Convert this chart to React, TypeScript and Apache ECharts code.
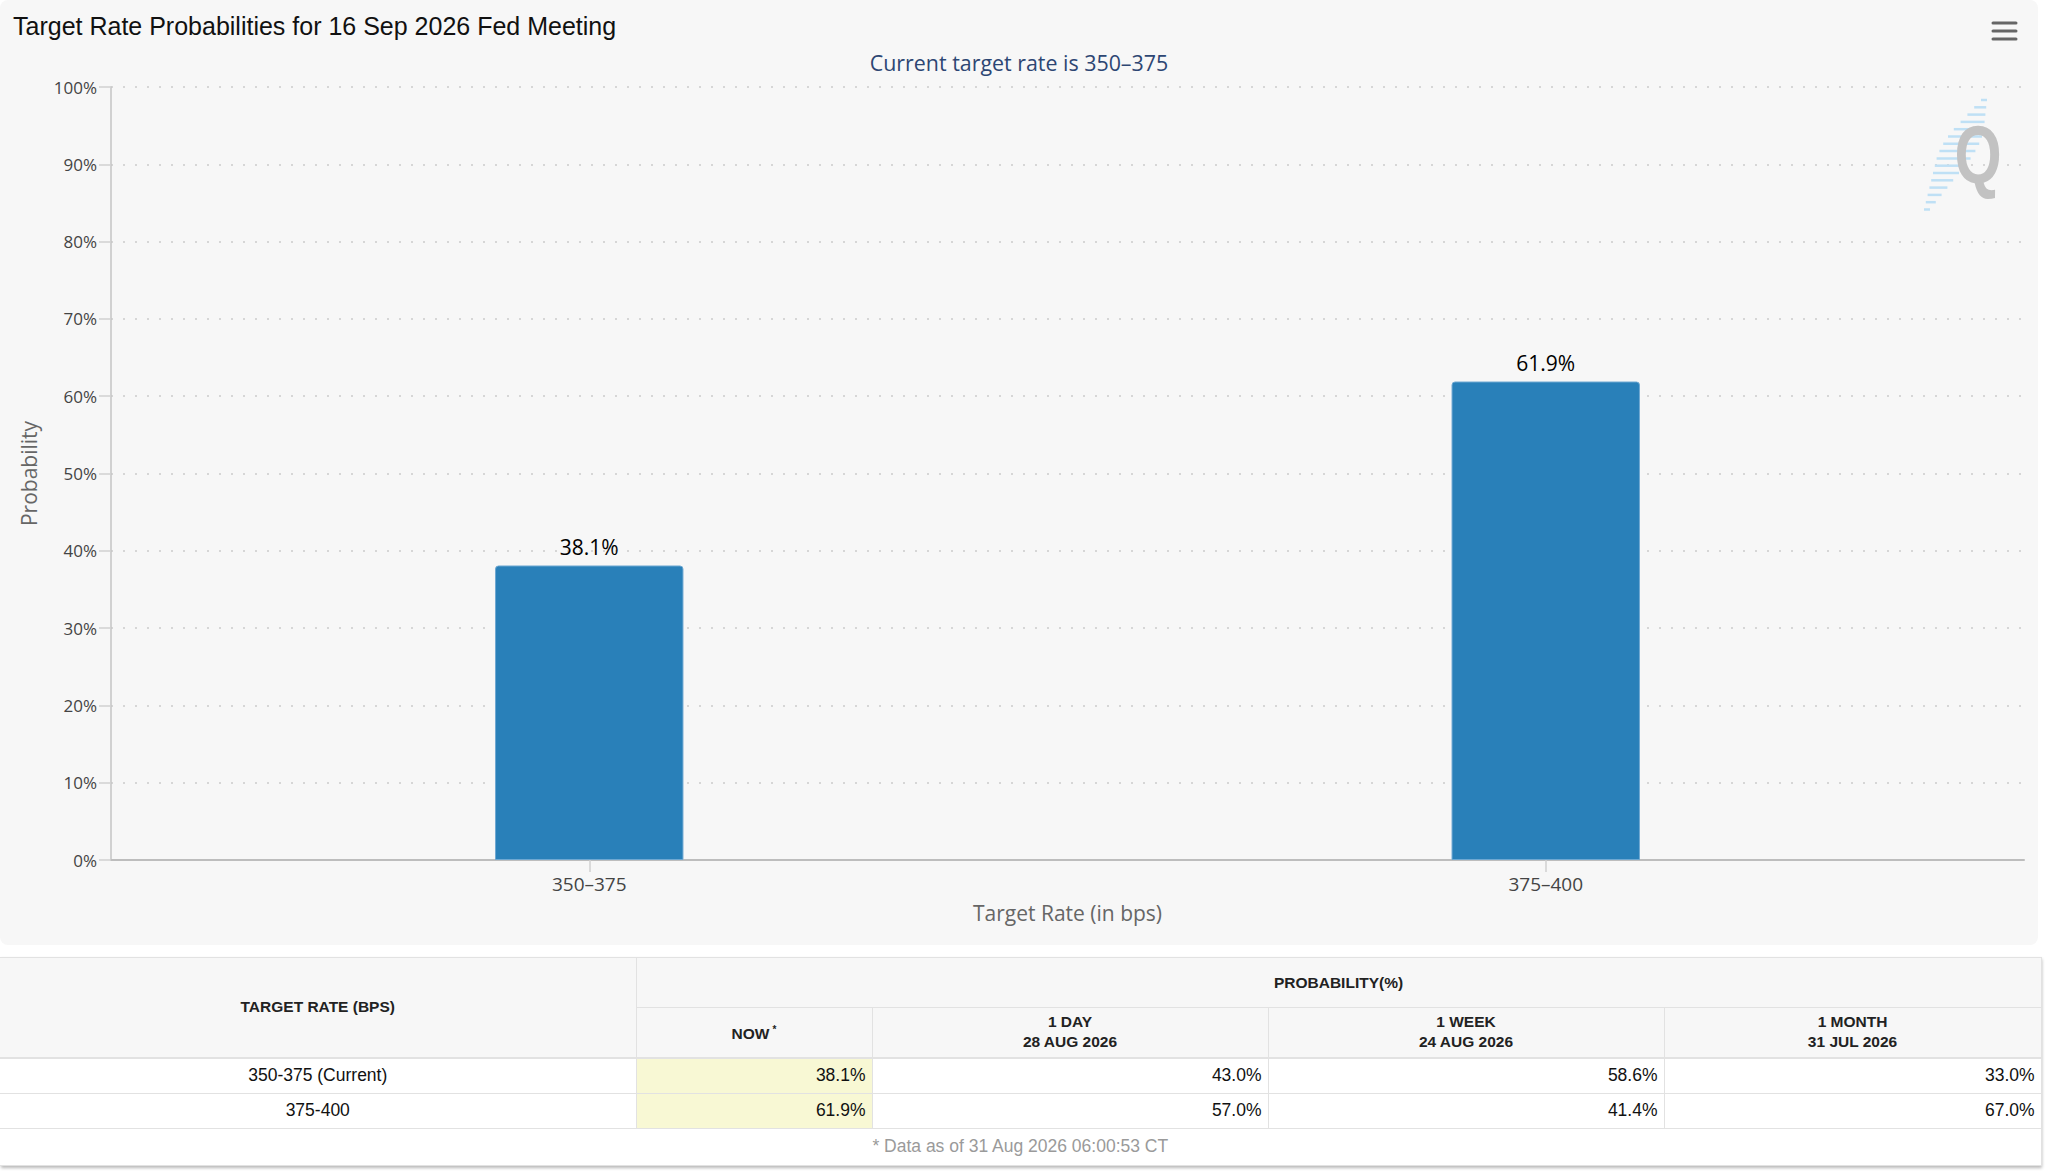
import React, { useEffect, useRef } from "react";
import * as echarts from "echarts";

const chartTitle = "Target Rate Probabilities for 16 Sep 2026 Fed Meeting";
const chartSubtitle = "Current target rate is 350–375";
const categories = ["350–375", "375–400"];
const probabilities = [38.1, 61.9];
const yTicks = [0, 10, 20, 30, 40, 50, 60, 70, 80, 90, 100];

const tableRates = ["350-375 (Current)", "375-400"];
const nowValues = [38.1, 61.9];
const dayValues = [43.0, 57.0];
const weekValues = [58.6, 41.4];
const monthValues = [33.0, 67.0];
const periodLabels = ["1 DAY", "1 WEEK", "1 MONTH"];
const periodDates = ["28 AUG 2026", "24 AUG 2026", "31 JUL 2026"];
const footNote = "* Data as of 31 Aug 2026 06:00:53 CT";

const LUCIDA = "'Open Sans', 'DejaVu Sans', sans-serif";
const HELV = "'Liberation Sans', Arial, Helvetica, sans-serif";

function buildLogo(): any[] {
  const els: any[] = [];
  // decorative hatch stripes of the watermark logo
  const stripeW = [6, 12, 18, 24, 30, 34, 36, 36, 34, 30, 26, 22, 18, 14, 10, 6];
  for (let i = 0; i < stripeW.length; i++) {
    const y = 100 + i * 7.3;
    const cx = 1984 - i * 3.8;
    els.push({
      type: "line",
      z: 1,
      silent: true,
      shape: { x1: cx - stripeW[i] / 2, y1: y, x2: cx + stripeW[i] / 2, y2: y },
      style: { stroke: "#bfe0f5", lineWidth: 2.5 },
    });
  }
  els.push({
    type: "text",
    z: 2,
    silent: true,
    x: 1978,
    y: 155,
    scaleX: 0.74,
    style: {
      text: "Q",
      fontSize: 82,
      fontWeight: "bold",
      fontFamily: HELV,
      fill: "#c2c2c2",
      align: "center",
      verticalAlign: "middle",
    },
  });
  // hamburger menu
  [23, 31, 39].forEach((y) => {
    els.push({
      type: "line",
      silent: true,
      shape: { x1: 1993, y1: y, x2: 2016, y2: y },
      style: { stroke: "#666666", lineWidth: 3, lineCap: "round" },
    });
  });
  return els;
}

function Chart() {
  const ref = useRef<HTMLDivElement>(null);
  useEffect(() => {
    if (!ref.current) return;
    const chart = echarts.init(ref.current, undefined, { renderer: "svg" });
    chart.setOption({
      animation: false,
      backgroundColor: "transparent",
      title: [
        {
          text: chartTitle,
          left: 13,
          top: 13,
          padding: 0,
          textStyle: { fontFamily: HELV, fontSize: 25, fontWeight: "normal", color: "#111111" },
        },
        {
          text: chartSubtitle,
          left: "center",
          top: 52,
          padding: 0,
          textStyle: { fontFamily: LUCIDA, fontSize: 21.4, fontWeight: "normal", color: "#2d4673" },
        },
      ],
      grid: { left: 111, right: 14, top: 87, bottom: 85, containLabel: false },
      xAxis: {
        type: "category",
        data: categories,
        name: "Target Rate (in bps)",
        nameLocation: "middle",
        nameGap: 42,
        nameTextStyle: { fontFamily: LUCIDA, fontSize: 21, color: "#666666" },
        axisLine: { lineStyle: { color: "#bdbdbd", width: 2 } },
        axisTick: { show: true, alignWithLabel: true, length: 12, lineStyle: { color: "#d0d0d0", width: 1.5 } },
        axisLabel: { fontFamily: LUCIDA, fontSize: 19, color: "#444444", margin: 14 },
        splitLine: { show: false },
      },
      yAxis: {
        type: "value",
        min: yTicks[0],
        max: yTicks[yTicks.length - 1],
        interval: yTicks[1] - yTicks[0],
        name: "Probability",
        nameLocation: "middle",
        nameGap: 72,
        nameRotate: 90,
        nameTextStyle: { fontFamily: LUCIDA, fontSize: 21, color: "#666666" },
        axisLine: { show: true, lineStyle: { color: "#c4c4c4", width: 1.5 } },
        axisTick: { show: true, length: 12, lineStyle: { color: "#d0d0d0", width: 1.5 } },
        axisLabel: { fontFamily: LUCIDA, fontSize: 17, color: "#444444", margin: 14, formatter: "{value}%" },
        splitLine: { show: true, lineStyle: { color: "#d6d6d6", width: 2, type: [2, 10] } },
      },
      series: [
        {
          type: "bar",
          data: probabilities,
          barWidth: "19.7%",
          itemStyle: {
            color: "#2980b9",
            borderColor: "#6ea8d2",
            borderWidth: 1,
            borderRadius: [3, 3, 0, 0],
          },
          label: {
            show: true,
            position: "top",
            distance: 8,
            fontFamily: LUCIDA,
            fontSize: 21,
            color: "#000000",
            formatter: (p: any) => p.value.toFixed(1) + "%",
          },
        },
      ],
      graphic: buildLogo(),
    });
    return () => chart.dispose();
  }, []);
  return (
    <div
      ref={ref}
      style={{
        position: "absolute",
        left: 0,
        top: 0,
        width: 2038,
        height: 945,
        background: "#f7f7f7",
        borderRadius: 8,
      }}
    />
  );
}

const colWidths = [636, 236, 396, 396, 377];
const border = "1px solid #e2e2e2";

function ProbTable() {
  const headCell: React.CSSProperties = {
    background: "#f7f7f7",
    fontWeight: "bold",
    fontSize: 15.5,
    color: "#222222",
    textAlign: "center",
    border,
    padding: 0,
    lineHeight: "20px",
  };
  const dataCell: React.CSSProperties = {
    fontSize: 17.5,
    color: "#111111",
    border,
    padding: "0 6px",
    height: 34,
    textAlign: "right",
    background: "#ffffff",
  };
  const valueCols = [dayValues, weekValues, monthValues];
  return (
    <div
      style={{
        position: "absolute",
        left: 0,
        top: 957,
        width: 2041,
        boxShadow: "1px 2px 3px rgba(0,0,0,0.28)",
        background: "#ffffff",
      }}
    >
      <table
        style={{
          width: 2041,
          borderCollapse: "collapse",
          tableLayout: "fixed",
          fontFamily: HELV,
        }}
      >
        <colgroup>
          {colWidths.map((w, i) => (
            <col key={i} style={{ width: w }} />
          ))}
        </colgroup>
        <thead>
          <tr style={{ height: 50 }}>
            <th rowSpan={2} style={{ ...headCell, borderLeft: "none", borderBottom: "2px solid #e2e2e2" }}>
              TARGET RATE (BPS)
            </th>
            <th colSpan={4} style={headCell}>
              PROBABILITY(%)
            </th>
          </tr>
          <tr style={{ height: 50 }}>
            <th style={{ ...headCell, borderBottom: "2px solid #e2e2e2" }}>
              NOW<sup style={{ fontSize: 10, verticalAlign: "6px", marginLeft: 3 }}>*</sup>
            </th>
            {periodLabels.map((p, i) => (
              <th key={p} style={{ ...headCell, borderBottom: "2px solid #e2e2e2" }}>
                {p}
                <br />
                {periodDates[i]}
              </th>
            ))}
          </tr>
        </thead>
        <tbody>
          {tableRates.map((r, ri) => (
            <tr key={r}>
              <td style={{ ...dataCell, textAlign: "center", borderLeft: "none" }}>{r}</td>
              <td style={{ ...dataCell, background: "#f8f8d4" }}>{nowValues[ri].toFixed(1)}%</td>
              {valueCols.map((vals, ci) => (
                <td key={ci} style={dataCell}>
                  {vals[ri].toFixed(1)}%
                </td>
              ))}
            </tr>
          ))}
          <tr>
            <td
              colSpan={5}
              style={{
                fontSize: 17.5,
                color: "#9a9a9a",
                textAlign: "center",
                height: 34,
                border,
                borderLeft: "none",
                background: "#ffffff",
              }}
            >
              {footNote}
            </td>
          </tr>
        </tbody>
      </table>
    </div>
  );
}

export default function App() {
  return (
    <div
      style={{
        position: "absolute",
        left: 0,
        top: 0,
        width: 2048,
        height: 1173,
        background: "#ffffff",
        overflow: "hidden",
      }}
    >
      <Chart />
      <ProbTable />
    </div>
  );
}
